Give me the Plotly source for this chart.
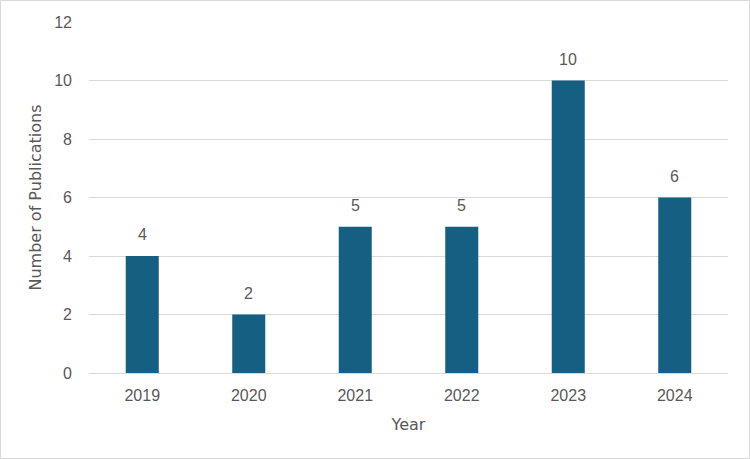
import plotly.graph_objects as go

years = ["2019", "2020", "2021", "2022", "2023", "2024"]
publications = [4, 2, 5, 5, 10, 6]

W, H = 750, 459
L, R, T, B = 89, 22, 22, 86
pw, ph = W - L - R, H - T - B

TXT = "#595959"
fig = go.Figure(go.Bar(
    x=years, y=publications,
    marker=dict(color="#156082", line=dict(width=0)),
))

for i, v in enumerate(publications):
    fig.add_annotation(
        xref="x", yref="y", x=i, y=v, text=str(v), showarrow=False,
        yanchor="bottom", yshift=11,
        font=dict(size=16, color=TXT, family="Liberation Sans, Arial, sans-serif"),
    )

fig.update_layout(
    width=W, height=H,
    margin=dict(l=L, r=R, t=T, b=B),
    paper_bgcolor="white", plot_bgcolor="white",
    font=dict(family="Liberation Sans, Arial, sans-serif", color=TXT, size=16),
    bargap=0.69,
    showlegend=False,
    xaxis=dict(
        type="category",
        title=dict(text="Year", font=dict(size=16, color=TXT, family="DejaVu Sans, sans-serif"), standoff=15),
        showgrid=False, showline=True, linecolor="#d9d9d9", linewidth=1,
        ticks="", ticklabelstandoff=8,
        tickfont=dict(size=16, color=TXT),
    ),
    yaxis=dict(
        title=dict(text="Number of Publications", font=dict(size=16, color=TXT, family="DejaVu Sans, sans-serif"), standoff=8),
        range=[0, 12], dtick=2, showgrid=True, gridcolor="#d9d9d9", gridwidth=1,
        zeroline=False, showline=False, ticks="", ticklabelstandoff=16,
        tickfont=dict(size=16, color=TXT),
    ),
    shapes=[dict(
        type="rect", xref="paper", yref="paper",
        x0=-(L - 0.5) / pw, x1=1 + (R - 0.5) / pw,
        y0=-(B - 0.5) / ph, y1=1 + (T - 0.5) / ph,
        line=dict(color="#d9d9d9", width=1), layer="below",
    )],
)

fig.write_html("out.html")
